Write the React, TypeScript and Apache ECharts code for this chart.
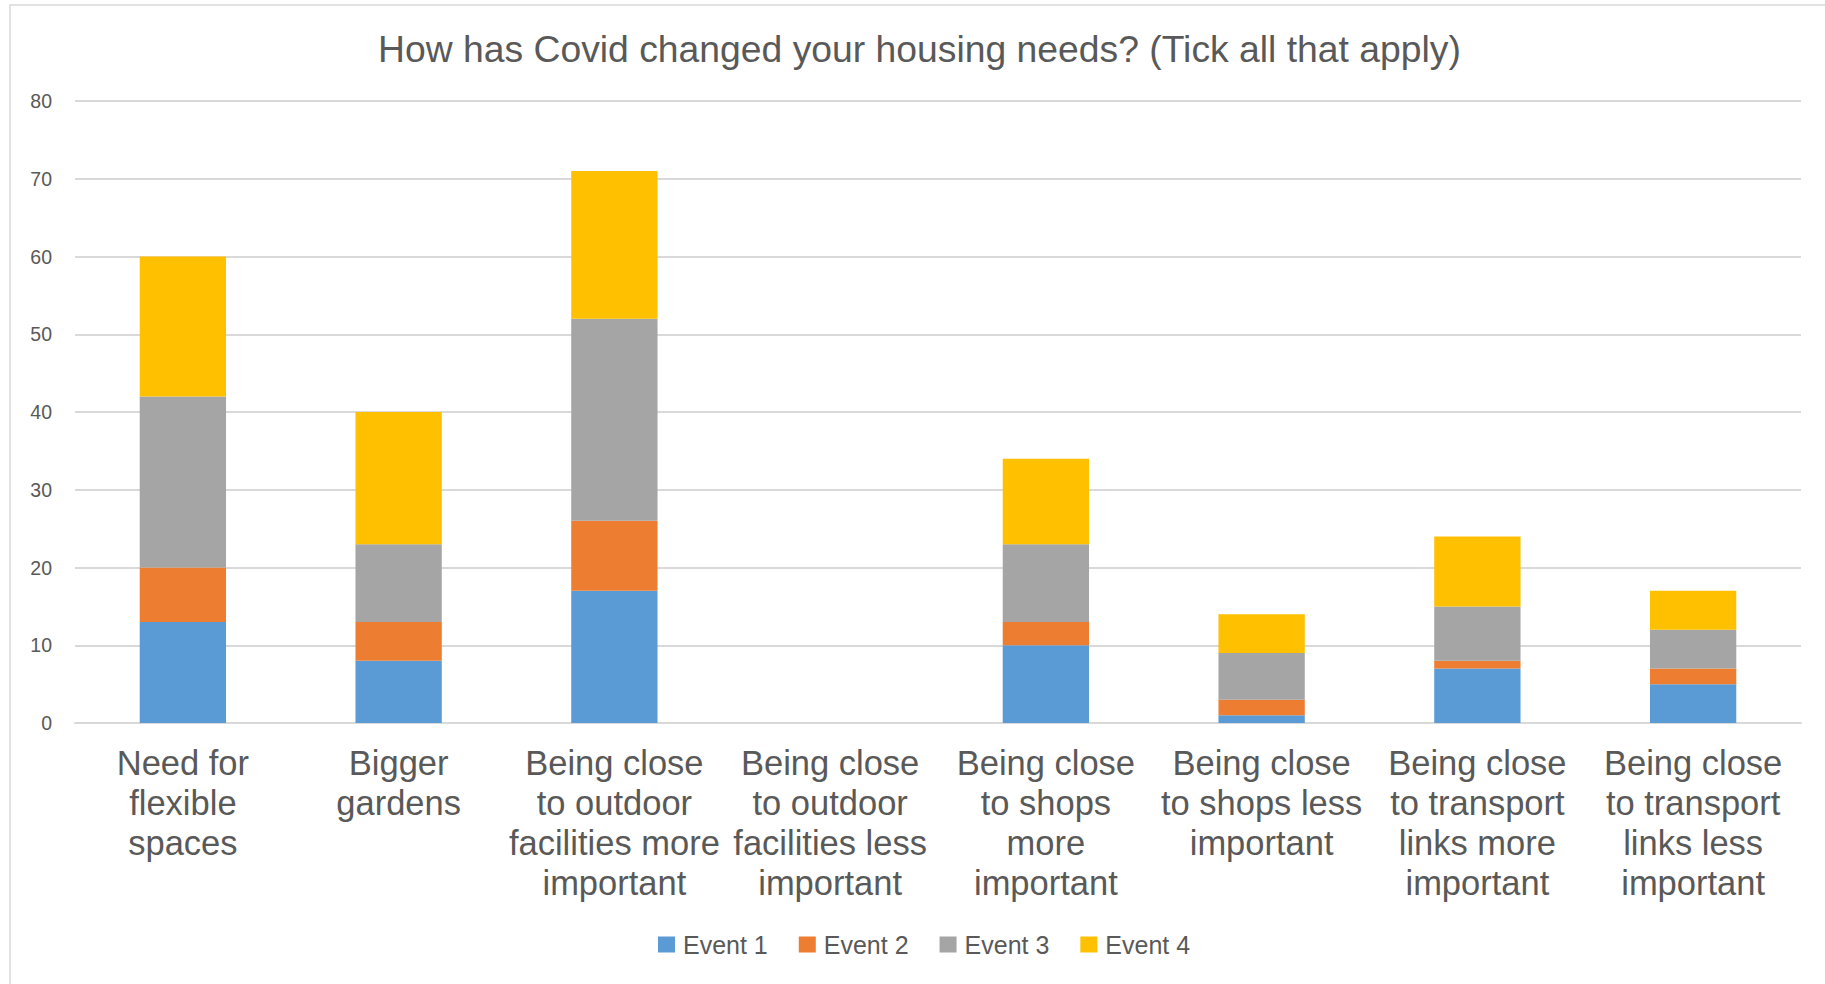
import React, { useEffect, useRef } from "react";
import * as echarts from "echarts";

const titleText = "How has Covid changed your housing needs? (Tick all that apply)";

const categories = [
  "Need for\nflexible\nspaces",
  "Bigger\ngardens",
  "Being close\nto outdoor\nfacilities more\nimportant",
  "Being close\nto outdoor\nfacilities less\nimportant",
  "Being close\nto shops\nmore\nimportant",
  "Being close\nto shops less\nimportant",
  "Being close\nto transport\nlinks more\nimportant",
  "Being close\nto transport\nlinks less\nimportant",
];

const seriesNames = ["Event 1", "Event 2", "Event 3", "Event 4"];

const event1 = [13, 8, 17, 0, 10, 1, 7, 5];
const event2 = [7, 5, 9, 0, 3, 2, 1, 2];
const event3 = [22, 10, 26, 0, 10, 6, 7, 5];
const event4 = [18, 17, 19, 0, 11, 5, 9, 5];

const seriesValues = [event1, event2, event3, event4];
const colors = ["#5B9BD5", "#ED7D31", "#A5A5A5", "#FFC000"];

const yMin = 0;
const yMax = 80;
const yInterval = 10;

const FONT = "'Liberation Sans', Arial, sans-serif";
const TEXT = "#595959";
const GRID = "#D9D9D9";

export default function App() {
  const ref = useRef<HTMLDivElement>(null);

  useEffect(() => {
    if (!ref.current) return;
    const chart = echarts.init(ref.current, undefined, { renderer: "svg" });
    chart.setOption({
      animation: false,
      backgroundColor: "#ffffff",
      textStyle: { fontFamily: FONT },
      graphic: [
        {
          type: "rect",
          shape: { x: 10, y: 5, width: 1840, height: 1010 },
          style: { fill: "none", stroke: GRID, lineWidth: 1.5 },
          silent: true,
        },
      ],
      title: {
        text: titleText,
        left: 378,
        top: 30,
        padding: 0,
        textStyle: {
          fontFamily: FONT,
          fontSize: 37.3,
          fontWeight: "normal",
          color: TEXT,
        },
      },
      legend: {
        data: seriesNames,
        left: 658,
        top: 932,
        padding: 0,
        itemWidth: 17,
        itemHeight: 16,
        itemGap: 31,
        icon: "rect",
        textStyle: { fontFamily: FONT, fontSize: 25, color: TEXT, padding: [0, 0, 0, 3] },
      },
      grid: { left: 75, right: 24, top: 101, bottom: 261, containLabel: false },
      xAxis: {
        type: "category",
        data: categories,
        axisLine: { show: true, lineStyle: { color: GRID, width: 2 } },
        axisTick: { show: false },
        axisLabel: {
          interval: 0,
          margin: 20,
          fontFamily: FONT,
          fontSize: 34.5,
          lineHeight: 40,
          color: TEXT,
          align: "center",
        },
      },
      yAxis: {
        type: "value",
        min: yMin,
        max: yMax,
        interval: yInterval,
        axisLine: { show: false },
        axisTick: { show: false },
        splitLine: { lineStyle: { color: GRID, width: 2 } },
        axisLabel: { margin: 23, fontFamily: FONT, fontSize: 19.5, color: TEXT },
      },
      series: seriesNames.map((name, i) => ({
        name,
        type: "bar",
        stack: "total",
        barWidth: "40%",
        data: seriesValues[i],
        itemStyle: { color: colors[i] },
      })),
    });
    return () => chart.dispose();
  }, []);

  return (
    <div
      ref={ref}
      style={{ position: "absolute", left: 0, top: 0, width: 1825, height: 984 }}
    />
  );
}
